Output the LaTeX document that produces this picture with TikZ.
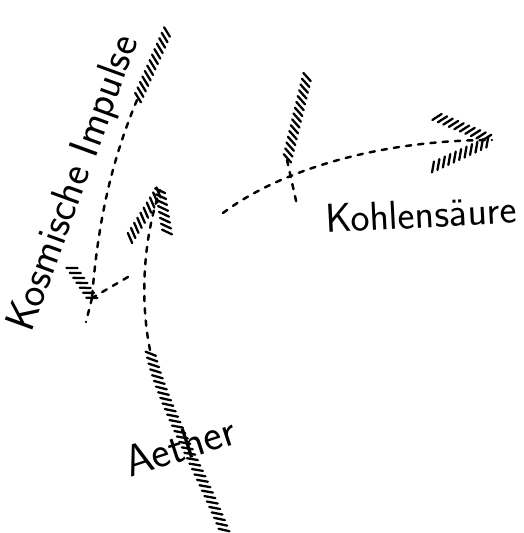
\documentclass[tikz,border=0pt]{standalone}
\usepackage{tikz}
\usetikzlibrary{decorations.markings}

\begin{document}
\begin{tikzpicture}[x=0.02cm,y=-0.02cm,
    dots/.style={line width=1.4pt,line cap=round,dash pattern=on 3pt off 4pt},
    hatch/.style={decoration={markings,
        mark=between positions 0 and 1 step 3.4pt with
        {\draw[line width=1.3pt,line cap=round] (-1.8pt,-2.6pt) -- (1.8pt,2.6pt);}},
        decorate},
    label/.style={font=\sffamily\fontsize{21}{24}\selectfont,inner sep=0pt}]
  \useasboundingbox (0,0) rectangle (523,533);
  % Kosmische Impulse
  \coordinate (kTop) at (167,32);
  \coordinate (kMid) at (137,100);
  \coordinate (kTip) at (92,298);
  \coordinate (kEnd) at (86,322);
  \coordinate (kLeft) at (72,268);
  \coordinate (kRight) at (128,277);
  \draw[hatch] (kTop) -- (kMid);
  \draw[dots] (kMid) .. controls (112,160) and (98,220) .. (kTip);
  \draw[dots] (kTip) -- (kEnd);
  \draw[hatch] (kLeft) -- (kTip);
  \draw[dots] (kRight) -- (kTip);
  \node[label,font=\sffamily\fontsize{24}{27}\selectfont,rotate=70] (impulse) at (75,184) {Kosmische Impulse};
  % Aether
  \coordinate (aBot) at (224,530);
  \coordinate (aMid) at (150,350);
  \coordinate (aTip) at (160,190);
  \coordinate (aLeft) at (130,238);
  \coordinate (aRight) at (167,232);
  \draw[hatch] (aBot) .. controls (200,470) and (160,400) .. (aMid);
  \draw[dots] (aMid) .. controls (140,300) and (143,240) .. (aTip);
  \draw[hatch] (aLeft) -- (aTip);
  \draw[hatch] (aRight) -- (aTip);
  \node[label,font=\sffamily\fontsize{25}{28}\selectfont,rotate=18] (aether) at (180,446) {Aether};
  % Kohlensaeure
  \coordinate (cStart) at (223,213);
  \coordinate (cTip) at (492,140);
  \coordinate (cUp) at (437,117);
  \coordinate (cDown) at (433,167);
  \coordinate (cTop) at (307,77);
  \coordinate (cBend) at (287,160);
  \coordinate (cFoot) at (297,205);
  \draw[dots] (cStart) .. controls (280,170) and (380,140) .. (cTip);
  \draw[hatch] (cUp) -- (cTip);
  \draw[hatch] (cDown) -- (cTip);
  \draw[hatch] (cTop) -- (cBend);
  \draw[dots] (cBend) -- (cFoot);
  \node[label,font=\sffamily\fontsize{23}{26}\selectfont,rotate=3] (kohle) at (421,214) {Kohlensäure};
\end{tikzpicture}
\end{document}
